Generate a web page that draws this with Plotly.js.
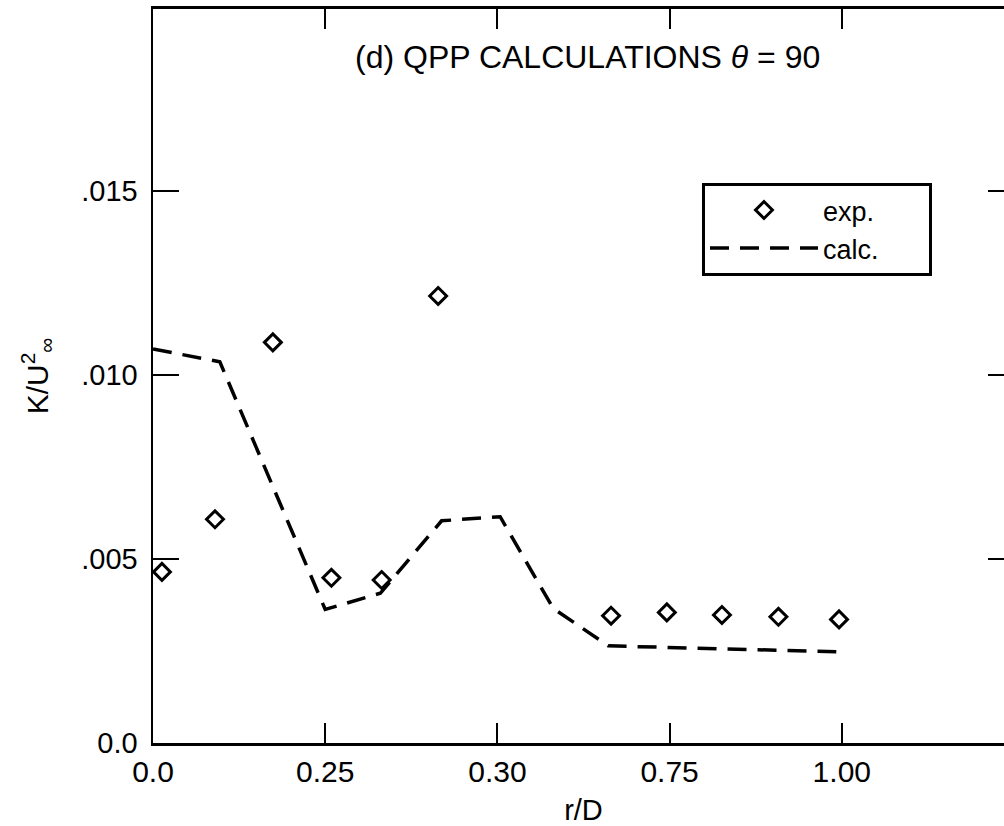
<!DOCTYPE html>
<html>
<head>
<meta charset="utf-8">
<script src="https://cdn.plot.ly/plotly-3.0.1.min.js"></script>
<style>
html,body{margin:0;padding:0;overflow:hidden;background:#fff;}
#chart{width:1030px;height:826px;}
</style>
</head>
<body>
<div id="chart"></div>
<script>
// Experimental points (r/D, K/U^2)
const expX = [0.013, 0.090, 0.174, 0.259, 0.332, 0.414, 0.665, 0.746, 0.826, 0.908, 0.996];
const expY = [0.00465, 0.00608, 0.01089, 0.00449, 0.00443, 0.01215, 0.00346, 0.00355, 0.00348, 0.00343, 0.00336];
// Calculated curve
const calcX = [0.0, 0.097, 0.250, 0.330, 0.419, 0.504, 0.581, 0.661, 0.992];
const calcY = [0.01071, 0.01036, 0.00363, 0.00407, 0.00604, 0.00615, 0.00366, 0.00264, 0.00248];
// Tick labels as printed
const xTickVals = [0, 0.25, 0.5, 0.75, 1.0];
const xTickText = ["0.0", "0.25", "0.30", "0.75", "1.00"];
const yTickVals = [0, 0.005, 0.010, 0.015];
const yTickText = ["0.0", ".005", ".010", ".015"];

const FONT = "Liberation Sans, Arial, Helvetica, sans-serif";

const traces = [
  {
    x: expX, y: expY, type: "scatter", mode: "markers", name: "exp.",
    marker: {symbol: "diamond-open", size: 13, color: "black", line: {width: 3, color: "black"}}
  },
  {
    x: calcX, y: calcY, type: "scatter", mode: "lines", name: "calc.\u00a0\u00a0\u00a0\u00a0\u00a0\u00a0",
    line: {color: "black", width: 3.5, dash: "19px,11px"}
  }
];

const layout = {
  width: 1030, height: 826,
  margin: {l: 153, r: 16, t: 9, b: 83},
  paper_bgcolor: "white", plot_bgcolor: "white",
  font: {family: FONT, color: "black", size: 29},
  showlegend: true,
  legend: {
    x: 0.6376, y: 0.763, xanchor: "left", yanchor: "top",
    bordercolor: "black", borderwidth: 3, bgcolor: "white",
    font: {family: FONT, size: 27, color: "black"},
    itemwidth: 108, tracegroupgap: 0
  },
  xaxis: {
    range: [0, 1.25], showgrid: false, zeroline: false,
    showline: true, linecolor: "black", linewidth: 3, mirror: "ticks",
    ticks: "inside", ticklen: 20, tickwidth: 2, tickcolor: "black",
    tickvals: xTickVals, ticktext: xTickText,
    tickfont: {family: FONT, size: 30, color: "black"},
    title: {text: "r/D", font: {family: FONT, size: 29, color: "black"}, standoff: 13}
  },
  yaxis: {
    range: [0, 0.01995], showgrid: false, zeroline: false,
    showline: true, linecolor: "black", linewidth: 2.5, mirror: "ticks",
    ticks: "inside", ticklen: 26, tickwidth: 2, tickcolor: "black",
    tickvals: yTickVals, ticktext: yTickText, ticklabelstandoff: 7,
    tickfont: {family: FONT, size: 29, color: "black"},
    title: {text: "K/U<sup>2</sup><sub>∞</sub>", font: {family: FONT, size: 30, color: "black"}, standoff: 24}
  },
  annotations: [
    {
      xref: "paper", yref: "paper", x: 0.505, y: 0.935, xanchor: "center", yanchor: "middle",
      text: "(d) QPP CALCULATIONS <i>θ</i> = 90", showarrow: false,
      font: {family: FONT, size: 32, color: "black"}
    }
  ]
};

Plotly.newPlot("chart", traces, layout, {displayModeBar: false, staticPlot: true});
</script>
</body>
</html>
